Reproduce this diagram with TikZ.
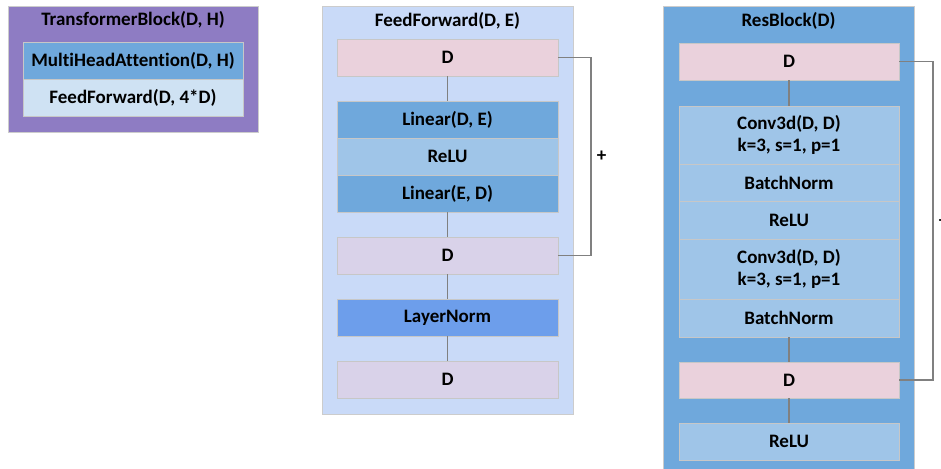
\documentclass[tikz,border=0pt]{standalone}
\usepackage{fontspec}
\setmainfont{Carlito}[Ligatures=NoCommon]
\definecolor{tpurple}{HTML}{8E7CC3}
\definecolor{midblue}{HTML}{6FA8DC}
\definecolor{paleblue}{HTML}{9FC5E8}
\definecolor{skyblue}{HTML}{C9DAF8}
\definecolor{lnblue}{HTML}{6D9EEB}
\definecolor{dpink}{HTML}{EAD1DC}
\definecolor{dlav}{HTML}{D9D2E9}
\definecolor{ffpale}{HTML}{CFE2F3}
\begin{document}
\begin{tikzpicture}[x=1pt,y=-1pt,font=\fontsize{19}{22.5}\selectfont\bfseries]
    \tikzstyle{frame}=[draw=black!20,line width=0.8pt,inner sep=0pt,anchor=north west]
    \tikzstyle{layer}=[draw=black!22,line width=0.8pt,inner sep=0pt,minimum width=221,minimum height=37,align=center]
    \tikzstyle{wire}=[draw=black!50,line width=1.1pt]
    \useasboundingbox (0,0) rectangle (941,468);
    \clip (0,0) rectangle (941,468);

      % TransformerBlock
      \node (tb) at (8,6) [frame,fill=tpurple,minimum width=250,minimum height=126] {};
      \node (tbtitle) at (133,20) {TransformerBlock(D, H)};
      \node (mha) at (133,60.5) [layer,fill=midblue,minimum width=220] {MultiHeadAttention(D, H)};
      \node (tff) at (133,97.5) [layer,fill=ffpale,minimum width=220] {FeedForward(D, 4*D)};

      % FeedForward
      \node (ff) at (322,6) [frame,fill=skyblue,minimum width=251,minimum height=408] {};
      \node (fftitle) at (447.5,21) {FeedForward(D, E)};
      \node (fd1) at (447.5,57.5) [layer,fill=dpink] {D};
      \node (lin1) at (447.5,119.5) [layer,fill=midblue] {Linear(D, E)};
      \node (frelu) at (447.5,156.5) [layer,fill=paleblue] {ReLU};
      \node (lin2) at (447.5,193.5) [layer,fill=midblue] {Linear(E, D)};
      \node (fd2) at (447.5,255.5) [layer,fill=dlav] {D};
      \node (ln) at (447.5,317.5) [layer,fill=lnblue] {LayerNorm};
      \node (fd3) at (447.5,379.5) [layer,fill=dlav] {D};

      \draw[wire] (fd1) -- (lin1);
      \draw[wire] (lin2) -- (fd2);
      \draw[wire] (fd2) -- (ln);
      \draw[wire] (ln) -- (fd3);
      \draw[wire] (fd1.east) -- (591,57.5) |- (fd2.east) node[pos=0.25,right=2pt] {+};

      % ResBlock
      \node (rb) at (663,6) [frame,fill=midblue,minimum width=251,minimum height=480] {};
      \node (rbtitle) at (788.5,21) {ResBlock(D)};
      \node (rd1) at (789,61.5) [layer,fill=dpink,minimum width=220] {D};
      \node (conv1) at (789,135) [layer,fill=paleblue,minimum width=220,minimum height=58] {Conv3d(D, D)\\k=3, s=1, p=1};
      \node (bn1) at (789,182.5) [layer,fill=paleblue,minimum width=220] {BatchNorm};
      \node (rrelu1) at (789,220) [layer,fill=paleblue,minimum width=220,minimum height=38] {ReLU};
      \node (conv2) at (789,269) [layer,fill=paleblue,minimum width=220,minimum height=60] {Conv3d(D, D)\\k=3, s=1, p=1};
      \node (bn2) at (789,318) [layer,fill=paleblue,minimum width=220,minimum height=38] {BatchNorm};
      \node (rd2) at (789,380) [layer,fill=dpink,minimum width=220,minimum height=36] {D};
      \node (rrelu2) at (789,441.5) [layer,fill=paleblue,minimum width=220] {ReLU};

      \draw[wire] (rd1) -- (conv1);
      \draw[wire] (bn2) -- (rd2);
      \draw[wire] (rd2) -- (rrelu2);
      \draw[wire] (rd1.east) -- (933,61.5) |- (rd2.east) node[pos=0.25,right=2pt] {+};
  \end{tikzpicture}
\end{document}
